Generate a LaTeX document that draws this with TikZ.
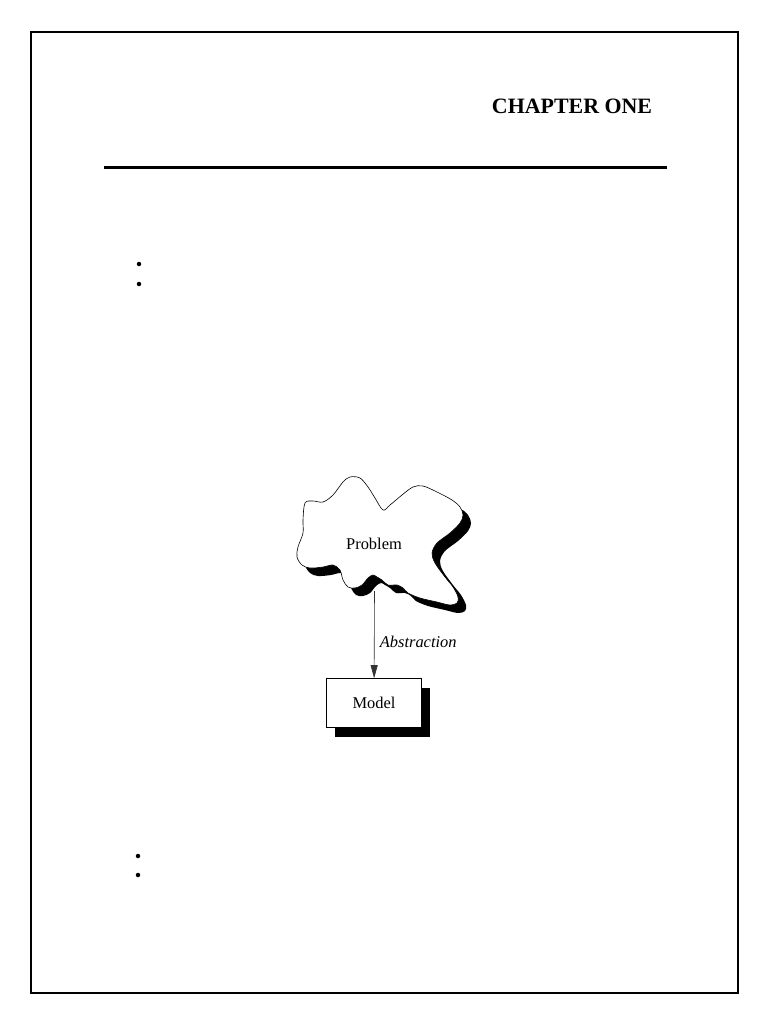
\documentclass[tikz,border=0pt]{standalone}
\usepackage{fontspec}
\setmainfont{Liberation Serif}
\usetikzlibrary{arrows.meta, positioning, shadows}
\tikzstyle{arrow} = [line width=0.6bp, draw=black!80, -{Triangle[length=13bp, width=7bp]}]
\tikzstyle{modelbox} = [rectangle, draw=black, fill=white, line width=0.6bp, minimum width=95bp, minimum height=49bp, drop shadow={shadow xshift=8bp, shadow yshift=-9bp, opacity=1, fill=black}]
\tikzstyle{bulletdot} = [circle, fill=black, inner sep=0pt, minimum size=4.5bp]
\newcommand\bodyfont{\fontsize{16.5}{19}\selectfont}
\newcommand\cloudpath{plot[smooth cycle, tension=0.55] coordinates {
	(305,503) (313,501) (323,502) (333,495) (343,482) (350,477) (360,478) (368,487)
	(375,498) (383,510) (390,505) (402,495) (413,487) (423,486) (437,492) (452,500)
	(460,507) (463,515) (460,523) (450,533) (437,543) (432,553) (435,563) (445,577)
	(453,587) (458,597) (457,603) (450,605) (437,602) (420,598) (408,593) (403,588)
	(397,585) (388,585) (382,580) (377,577) (373,575) (368,578) (362,585) (355,588)
	(348,587) (343,580) (340,570) (333,565) (323,567) (310,568) (302,565) (297,557)
	(298,547) (303,533) (303,520)}}

\begin{document}
\begin{tikzpicture}[x=1bp, y=-1bp, node distance=159bp]
\useasboundingbox (0,0) rectangle (768,1024);
%----------------------------------------------------------------------------
% Page frame and heading
\draw[line width=1.3bp] (31,32) rectangle (738,993);
\node (chapter) at (572,106) {\fontsize{22}{26}\selectfont\bfseries CHAPTER ONE};
\draw[line width=3bp] (104,167) -- (667,167);

%----------------------------------------------------------------------------
% Empty list bullets
\node (bulletA) [bulletdot] at (139,264) {};
\node (bulletB) [bulletdot] at (139,284) {};
\node (bulletC) [bulletdot] at (138,856) {};
\node (bulletD) [bulletdot] at (138,875) {};

%----------------------------------------------------------------------------
% Problem cloud with its shadow (shadow only below the notch)
\begin{scope}
\clip (280,510) rectangle (490,630);
\fill[black, shift={(8,8)}] \cloudpath;
\end{scope}
\filldraw[fill=white, draw=black, line width=0.6bp] \cloudpath;
\node (problem) at (374,544) {\bodyfont Problem};

%----------------------------------------------------------------------------
% Model box
\node (model) [modelbox, below of = problem] {\bodyfont Model};

%----------------------------------------------------------------------------
% Lines
\coordinate (cloudfoot) at (374.5,591);
\draw [arrow] (cloudfoot) -- node[anchor=west, pos=0.58, xshift=2bp] {\bodyfont\itshape Abstraction} (model);
\end{tikzpicture}
\end{document}
